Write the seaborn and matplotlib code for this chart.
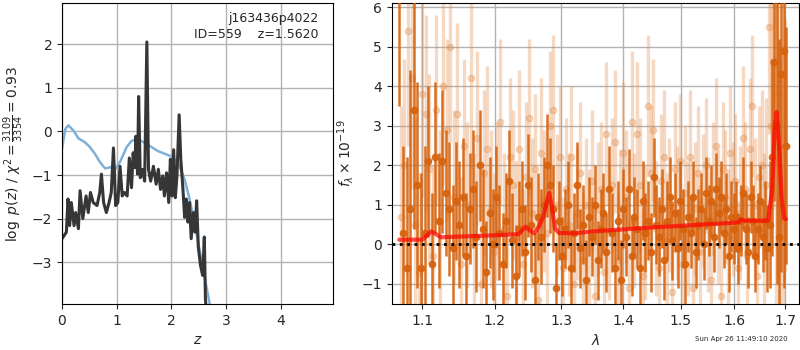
import numpy as np
import pandas as pd
import seaborn as sns
import matplotlib.pyplot as plt
from matplotlib.ticker import FixedLocator, FixedFormatter, NullLocator

# p(z) panel
z_pz = [0.00, 0.08, 0.11, 0.14, 0.17, 0.22, 0.25, 0.30, 0.33, 0.38, 0.44, 0.48,
        0.52, 0.57, 0.64, 0.69, 0.72, 0.76, 0.81, 0.86, 0.90, 0.94, 0.98, 1.02,
        1.06, 1.10, 1.14, 1.19, 1.23, 1.27, 1.30, 1.33, 1.35, 1.38, 1.40, 1.43,
        1.47, 1.51, 1.55, 1.58, 1.62, 1.67, 1.72, 1.76, 1.80, 1.84, 1.87, 1.91,
        1.95, 1.98, 2.01, 2.04, 2.07, 2.10, 2.14, 2.17, 2.21, 2.24, 2.27, 2.30,
        2.33, 2.36, 2.40, 2.43, 2.46, 2.49, 2.53, 2.57, 2.60, 2.62, 2.65]
logpz = [-2.46, -2.31, -1.55, -2.16, -1.63, -2.16, -1.86, -2.23, -1.36, -2.00, -1.48, -1.86,
         -1.40, -1.63, -1.70, -1.40, -0.98, -1.63, -1.86, -1.63, -1.40, -0.38, -1.70, -1.63,
         -0.80, -1.48, -1.40, -1.48, -0.61, -1.29, -0.49, -0.83, -0.11, -0.98, 0.80, -1.06,
         -0.87, -1.14, 2.05, -0.87, -1.14, -0.80, -1.21, -0.87, -1.33, -1.02, -1.48, -0.95,
         -1.63, -0.64, -1.48, -0.42, -1.52, -1.02, 0.38, -0.64, -1.33, -1.97, -1.55, -2.08,
         -1.63, -2.46, -1.86, -2.31, -1.59, -2.65, -3.07, -3.30, -2.42, -3.83, -4.40]

z_prior = [0.00, 0.06, 0.115, 0.21, 0.30, 0.42, 0.51, 0.60, 0.69, 0.79, 0.88, 0.97,
           1.06, 1.18, 1.27, 1.38, 1.56, 1.75, 1.87, 1.99, 2.12, 2.24, 2.33, 2.43,
           2.52, 2.61, 2.72]
log_prior = [-0.40, 0.05, 0.14, 0.02, -0.16, -0.25, -0.36, -0.51, -0.70, -0.85, -0.82, -0.87,
             -0.70, -0.36, -0.22, -0.17, -0.30, -0.45, -0.51, -0.57, -0.72, -1.10, -1.55, -2.16,
             -2.77, -3.37, -4.10]

# spectrum panel (um, 1e-19 flux units)
flux_dark = [7.5, 0.3, -0.6, 0.9, 3.4, 1.5, -0.6, 0.3, 2.1, -0.5, 2.2, 0.6, 2.1, 1.3, 0.9,
             -0.1, 1.1, 0.5, 1.2, -0.3, 0.9, 1.4, 0.2, 2.0, 0.4, -0.7, 0.8, 0.0, 1.2, 0.3,
             -0.5, 0.6, 1.6, 0.1, -0.8, 0.4, 0.9, -0.2, 1.5, 0.5, -0.9, 0.7, 0.2, 1.0, 2.0,
             1.5, 0.9, -1.1, 0.6, -0.3, 0.4, 1.0, -0.6, 0.3, 1.5, -0.1, 0.5, -0.9, 0.7, 0.2,
             1.0, -0.4, 0.4, 0.8, -0.2, 1.4, 0.3, -0.6, 0.6, -0.9, 0.9, 0.2, 1.4, -0.3, 0.7,
             0.4, -0.6, 1.1, 0.3, 0.6, -0.2, 1.7, 0.5, 0.2, 0.9, -0.4, 0.6, 1.2, 0.1, 0.8,
             -0.1, 1.1, 0.4, -0.5, 0.7, 0.3, 1.2, -0.2, 0.5, 0.9, 0.0, 1.3, 0.6, 1.1, 0.2,
             1.4, 0.8, 1.2, 0.3, 0.9, -0.3, 0.7, 0.4, 0.7, -0.1, 0.6, 1.3, 0.4, -0.2, 1.2,
             0.6, -0.3, 0.4, 1.1, 0.2, 0.6, -0.1, 0.5, 2.2, 4.6, 3.0, 0.2, 4.3, 4.9, 2.5]
err_dark = [4.0, 2.2, 2.8, 3.5, 3.0, 2.6, 2.4, 2.2, 1.9, 1.8, 1.9, 1.7, 1.8, 1.6, 1.7,
            1.6, 1.5, 1.6, 1.5, 1.6, 1.4, 1.5, 1.4, 1.4, 1.5, 1.3, 1.4, 1.4, 1.3, 1.2,
            1.3, 1.2, 1.3, 1.2, 1.3, 1.2, 1.2, 1.2, 1.3, 1.2, 1.2, 1.1, 1.2, 1.2, 1.3,
            1.2, 1.1, 1.1, 1.0, 1.0, 1.0, 1.1, 1.0, 1.0, 1.1, 1.0, 1.0, 1.0, 1.0, 1.0,
            1.0, 1.0, 1.0, 1.0, 1.0, 1.1, 1.0, 1.0, 1.0, 1.0, 1.0, 1.0, 1.0, 1.0, 1.0,
            1.0, 1.0, 1.0, 1.0, 1.0, 1.0, 1.0, 1.0, 1.0, 1.0, 1.0, 1.0, 1.0, 1.0, 1.0,
            1.0, 1.0, 1.0, 1.0, 0.9, 0.9, 0.9, 0.9, 0.9, 0.9, 0.9, 0.9, 0.9, 0.9, 0.9,
            0.9, 0.9, 0.9, 0.9, 0.9, 0.9, 0.9, 0.9, 0.9, 0.9, 0.9, 0.9, 0.9, 0.9, 0.9,
            0.9, 0.9, 0.9, 0.9, 0.9, 1.0, 1.1, 1.6, 2.5, 3.5, 4.0, 5.0, 5.0, 6.0, 3.0]

flux_light = [0.7, 2.0, 5.4, 4.2, 0.5, -0.7, 3.8, 3.3, 1.9, -0.3, 3.4, 0.6, 4.0, 2.9, 5.0,
              1.2, 3.3, -0.5, 2.5, 1.0, 4.2, 0.2, 2.7, -1.0, 1.8, 2.4, 0.9, -0.2, 1.1, 3.1,
              0.4, -1.3, 2.2, 1.5, 0.2, 2.4, -0.5, 1.7, 3.2, 0.8, 1.9, -1.4, 2.3, 1.1, 0.3,
              3.0, 3.4, 1.0, 2.2, -0.6, 1.4, 0.5, 2.2, -1.0, 0.8, 1.8, -0.4, 1.0, 0.2, 1.6,
              -1.3, 0.9, 1.4, -0.7, 2.8, 0.3, 1.5, 2.6, -0.4, 0.7, 2.3, 1.2, -1.1, 3.1, 0.6,
              2.8, 1.5, -0.8, 0.3, 3.5, 1.8, 2.9, 0.4, -0.6, 1.6, 2.2, 0.1, 1.0, -1.2, 1.9,
              0.8, 2.1, -0.5, 1.3, 0.4, 2.2, -1.1, 0.9, 1.8, -0.2, 1.1, 2.0, 0.5, -0.9, 1.4,
              2.5, 0.7, -1.3, 1.9, 1.2, 0.2, 2.3, 0.9, 1.6, -0.6, 0.8, 2.7, 1.4, -0.3, 2.4,
              3.5, 1.0, -0.8, 1.7, 2.0, 0.3, 1.5, 5.5, 3.0, 4.6, 2.1, 3.8, 1.0, 0.6, 2.5]
err_light = [2.8, 2.7, 2.9, 2.8, 2.7, 2.5, 2.6, 2.5, 2.4, 2.3, 2.4, 2.3, 2.5, 2.3, 2.4,
             2.2, 2.3, 2.2, 2.2, 2.1, 2.3, 2.1, 2.2, 2.0, 2.1, 2.1, 2.0, 2.0, 2.0, 2.1,
             1.9, 1.9, 2.0, 1.9, 1.9, 2.0, 1.9, 1.9, 2.0, 1.9, 1.9, 1.8, 1.9, 1.8, 1.8,
             1.9, 1.9, 1.8, 1.8, 1.8, 1.8, 1.8, 1.8, 1.8, 1.7, 1.8, 1.7, 1.7, 1.7, 1.8,
             1.7, 1.7, 1.7, 1.7, 1.8, 1.7, 1.7, 1.8, 1.7, 1.7, 1.8, 1.7, 1.7, 1.8, 1.7,
             1.8, 1.7, 1.7, 1.7, 1.8, 1.7, 1.8, 1.7, 1.7, 1.7, 1.7, 1.7, 1.7, 1.7, 1.7,
             1.7, 1.7, 1.7, 1.7, 1.7, 1.7, 1.7, 1.7, 1.7, 1.7, 1.7, 1.7, 1.7, 1.7, 1.7,
             1.7, 1.7, 1.7, 1.7, 1.7, 1.7, 1.7, 1.7, 1.7, 1.7, 1.7, 1.8, 1.7, 1.7, 1.8,
             1.8, 1.7, 1.8, 1.8, 1.9, 2.0, 2.2, 2.7, 3.2, 3.7, 4.2, 4.7, 4.2, 3.7, 3.2]

wave_model = [1.070, 1.100, 1.106, 1.112, 1.118, 1.125, 1.150, 1.200, 1.235, 1.245, 1.252,
              1.258, 1.265, 1.272, 1.277, 1.281, 1.285, 1.290, 1.296, 1.320, 1.350, 1.400,
              1.450, 1.500, 1.550, 1.600, 1.608, 1.613, 1.620, 1.650, 1.666, 1.674, 1.679,
              1.683, 1.688, 1.693, 1.698, 1.702]
flux_model = [0.12, 0.12, 0.22, 0.33, 0.26, 0.18, 0.20, 0.23, 0.26, 0.45, 0.35,
              0.28, 0.45, 0.70, 1.05, 1.30, 0.95, 0.40, 0.29, 0.28, 0.33, 0.38,
              0.43, 0.47, 0.51, 0.55, 0.56, 0.63, 0.60, 0.60, 0.60, 1.40, 2.90,
              3.35, 2.50, 1.20, 0.66, 0.64]

# sampling grids
wave_dark = np.linspace(1.070, 1.702, len(flux_dark))
wave_light = np.linspace(1.072, 1.700, len(flux_light))

sns.set_style("ticks", {"axes.grid": True, "grid.color": "0.7",
                        "axes.edgecolor": "black", "xtick.direction": "out",
                        "ytick.direction": "out"})
plt.rcParams['font.family'] = ['DejaVu Sans']
plt.rcParams['grid.linewidth'] = 1.0
plt.rcParams['mathtext.fontset'] = 'dejavusans'

fig = plt.figure(figsize=(8, 3.5), dpi=100)
ax1 = fig.add_axes([0.0775, 0.131, 0.3387, 0.86])
ax2 = fig.add_axes([0.4896, 0.131, 0.5095, 0.86])

# left: p(z)
pz = pd.DataFrame({'z': z_pz, 'logp': logpz})
pr = pd.DataFrame({'z': z_prior, 'logp': log_prior})
sns.lineplot(data=pr, x='z', y='logp', ax=ax1, color='#7fb0d8', lw=1.8, sort=False)
sns.lineplot(data=pz, x='z', y='logp', ax=ax1, color='#363636', lw=2.2, sort=False)
ax1.set_xlim(0, 4.95)
ax1.set_ylim(-3.96, 2.94)
ax1.set_xticks([0, 1, 2, 3, 4])
ax1.set_yticks([-3, -2, -1, 0, 1, 2])
ax1.set_xlabel('$z$')
ax1.set_ylabel(r'$\log\ p(z)$ / $\chi^2=\frac{3109}{3354}=0.93$')
ax1.text(0.948, 0.97, 'j163436p4022\nID=559    z=1.5620', transform=ax1.transAxes,
         ha='right', va='top', fontsize=9, linespacing=1.3)

# right: spectrum
ax2.errorbar(wave_light, flux_light, yerr=err_light, fmt='o', color='#e38c4a',
             alpha=0.33, ms=4.5, elinewidth=2.4, capsize=0, zorder=2)
ax2.errorbar(wave_dark, flux_dark, yerr=err_dark, fmt='o', color='#d6620d',
             alpha=0.9, ms=4.5, elinewidth=1.8, capsize=0, zorder=3)
md = pd.DataFrame({'wave': wave_model, 'flux': flux_model})
sns.lineplot(data=md, x='wave', y='flux', ax=ax2, color='red', alpha=0.7, lw=3,
             sort=False, zorder=5)
ax2.axhline(0, color='black', ls=':', lw=2, zorder=6)

ax2.set_xscale('log')
ax2.set_xlim(1.0603, 1.7294)
ax2.set_ylim(-1.51, 6.1)
xt = [1.1, 1.2, 1.3, 1.4, 1.5, 1.6, 1.7]
ax2.xaxis.set_major_locator(FixedLocator(xt))
ax2.xaxis.set_major_formatter(FixedFormatter([f'{v:.1f}' for v in xt]))
ax2.xaxis.set_minor_locator(NullLocator())
ax2.set_yticks([-1, 0, 1, 2, 3, 4, 5, 6])
ax2.set_xlabel(r'$\lambda$')
ax2.set_ylabel(r'$f_\lambda\times10^{-19}$')

fig.text(0.984, 0.031, 'Sun Apr 26 11:49:10 2020', ha='right', va='center', fontsize=5)

fig.savefig('out.png', dpi=100)
